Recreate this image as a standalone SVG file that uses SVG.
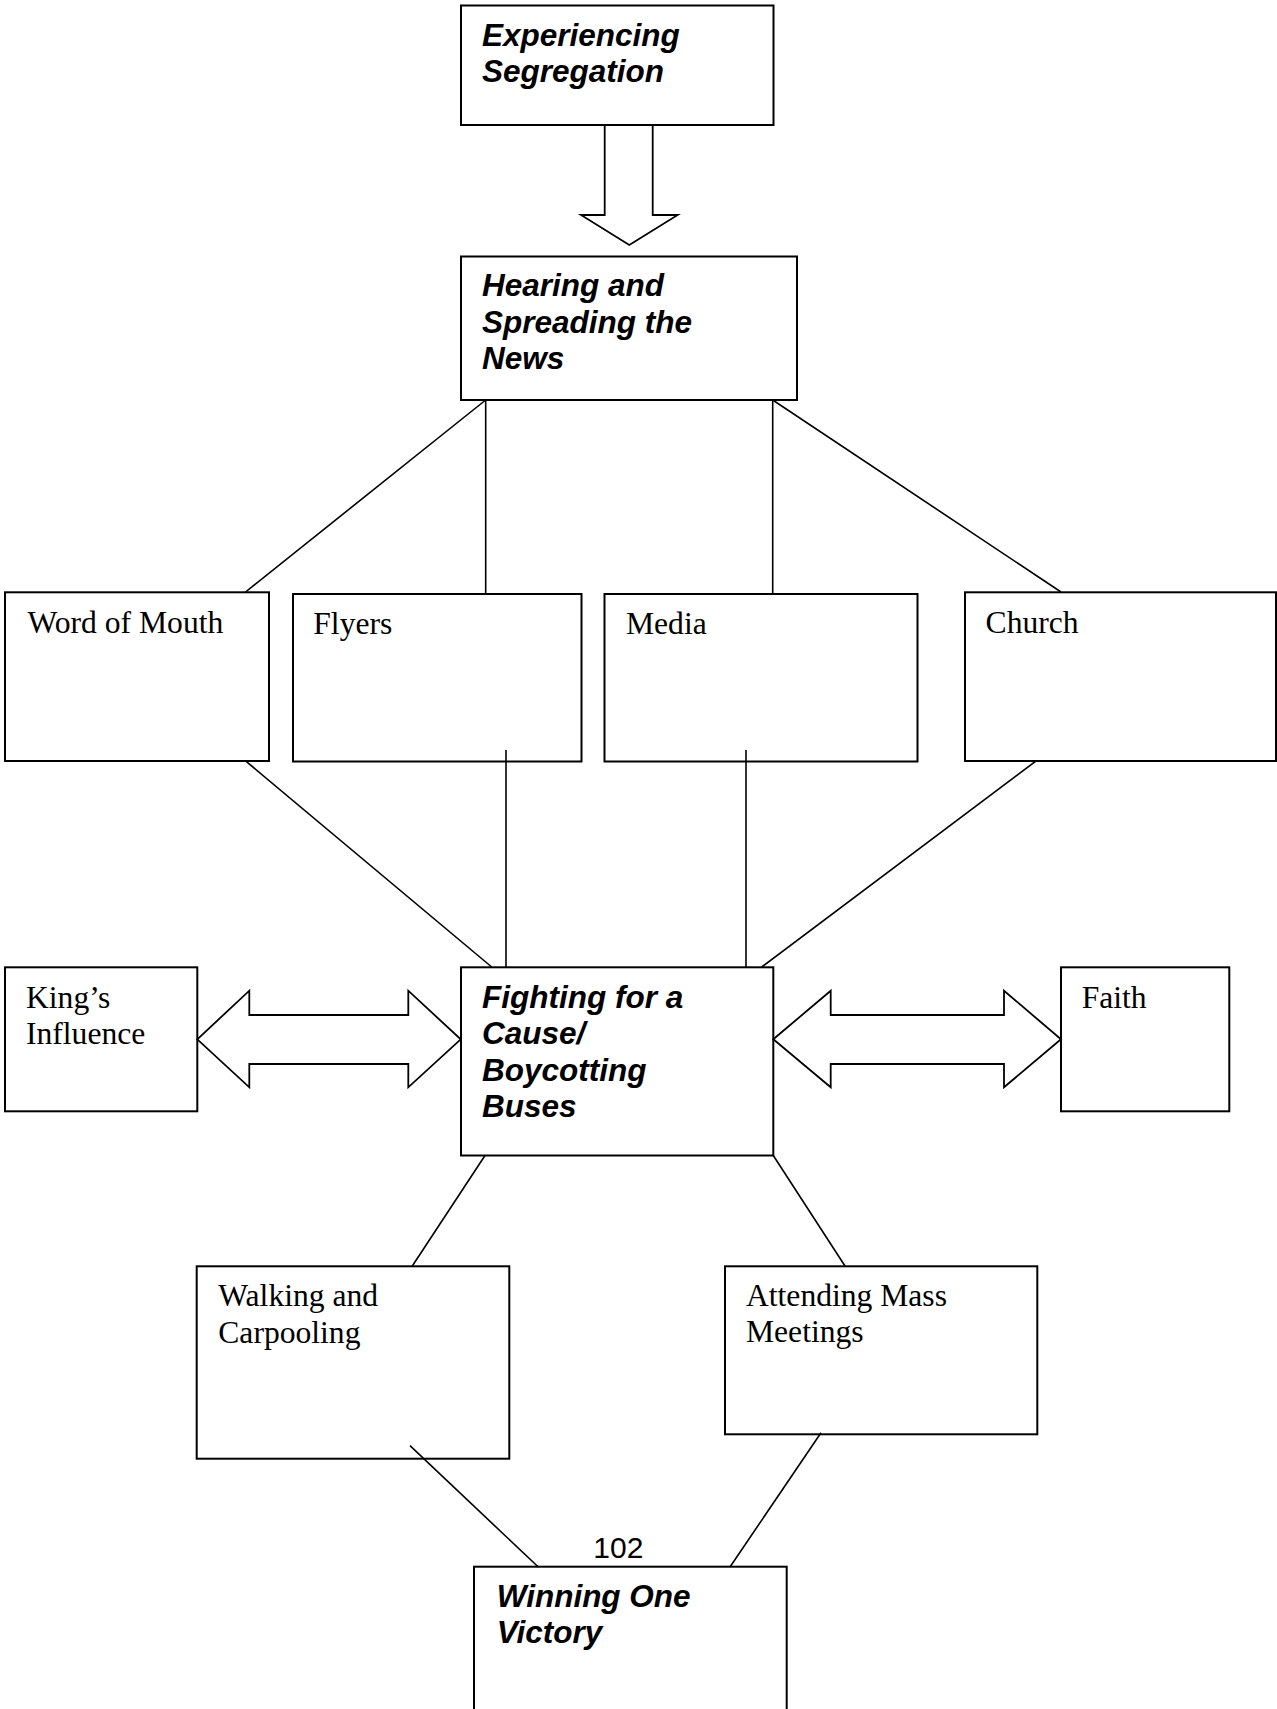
<svg xmlns="http://www.w3.org/2000/svg" width="1277" height="1709" viewBox="0 0 1277 1709">
<style>
.box{fill:none;stroke:#000;stroke-width:2}
.ln{fill:none;stroke:#000;stroke-width:1.6}
.arr{fill:#fff;stroke:#000;stroke-width:1.8;stroke-linejoin:miter}
.h{font-family:"Liberation Sans",Arial,sans-serif;font-weight:bold;font-style:italic;font-size:31.5px;fill:#000}
.t{font-family:"Liberation Serif","Times New Roman",serif;font-size:31.6px;fill:#000}
.pg{font-family:"Liberation Sans",Arial,sans-serif;font-size:30px;fill:#000}
</style>
<rect width="1277" height="1709" fill="#fff"/>
<g id="connectors">
<line class="ln" x1="485.7" y1="400" x2="245.5" y2="592"/>
<line class="ln" x1="485.7" y1="400" x2="485.7" y2="594"/>
<line class="ln" x1="772.7" y1="400" x2="772.7" y2="594"/>
<line class="ln" x1="772.7" y1="400" x2="1061" y2="592"/>
<line class="ln" x1="245.7" y1="761" x2="491.7" y2="967"/>
<line class="ln" x1="506" y1="750" x2="506" y2="967"/>
<line class="ln" x1="746" y1="750" x2="746" y2="967"/>
<line class="ln" x1="1036" y1="761" x2="761.7" y2="967"/>
<line class="ln" x1="485" y1="1155.5" x2="412.3" y2="1266"/>
<line class="ln" x1="773.3" y1="1155.5" x2="845" y2="1266"/>
<line class="ln" x1="410" y1="1445.7" x2="538.3" y2="1567"/>
<line class="ln" x1="821" y1="1432.7" x2="730" y2="1567"/>
<polygon class="arr" points="604.7,125 652.7,125 652.7,215 677.7,215 629.3,245 581,215 604.7,215"/>
<polygon class="arr" points="197.3,1039.3 249.3,990.7 249.3,1015 408.3,1015 408.3,990.7 460.7,1039.3 408.3,1087.3 408.3,1064 249.3,1064 249.3,1087.3"/>
<polygon class="arr" points="773.3,1039.3 830.7,990.7 830.7,1015 1004,1015 1004,990.7 1061,1039.3 1004,1087.3 1004,1064 830.7,1064 830.7,1087.3"/>
</g>
<g id="experiencing">
<rect class="box" x="461" y="5.5" width="312.5" height="119.5"/>
<text class="h" x="482" y="46">Experiencing</text>
<text class="h" x="482" y="82">Segregation</text>
</g>
<g id="hearing">
<rect class="box" x="461" y="256.5" width="336" height="143.5"/>
<text class="h" x="482" y="296">Hearing and</text>
<text class="h" x="482" y="333">Spreading the</text>
<text class="h" x="482" y="369">News</text>
</g>
<g id="word-of-mouth">
<rect class="box" x="5" y="592.3" width="264" height="168.7"/>
<text class="t" x="27.5" y="632.7">Word of Mouth</text>
</g>
<g id="flyers">
<rect class="box" x="293" y="594" width="288.5" height="167.5"/>
<text class="t" x="313.3" y="634">Flyers</text>
</g>
<g id="media">
<rect class="box" x="604.5" y="594" width="313" height="167.5"/>
<text class="t" x="626" y="634">Media</text>
</g>
<g id="church">
<rect class="box" x="965" y="592.3" width="311" height="168.7"/>
<text class="t" x="985.6" y="632.7">Church</text>
</g>
<g id="kings-influence">
<rect class="box" x="5" y="967.3" width="192.3" height="144"/>
<text class="t" x="26" y="1007.7">King’s</text>
<text class="t" x="26" y="1044">Influence</text>
</g>
<g id="fighting">
<rect class="box" x="461" y="967.3" width="312.3" height="188.2"/>
<text class="h" x="482" y="1007.7">Fighting for a</text>
<text class="h" x="482" y="1044">Cause/</text>
<text class="h" x="482" y="1080.5">Boycotting</text>
<text class="h" x="482" y="1116.5">Buses</text>
</g>
<g id="faith">
<rect class="box" x="1061" y="967.3" width="168.3" height="144"/>
<text class="t" x="1081.7" y="1007.7">Faith</text>
</g>
<g id="walking">
<rect class="box" x="196.7" y="1266.3" width="312.6" height="192.4"/>
<text class="t" x="218.3" y="1306">Walking and</text>
<text class="t" x="218.3" y="1342.5">Carpooling</text>
</g>
<g id="attending">
<rect class="box" x="725" y="1266.3" width="312.3" height="168"/>
<text class="t" x="746" y="1305.5">Attending Mass</text>
<text class="t" x="746" y="1342.3">Meetings</text>
</g>
<g id="winning">
<rect class="box" x="474" y="1566.7" width="312.7" height="160"/>
<text class="h" x="496.7" y="1606.7">Winning One</text>
<text class="h" x="496.7" y="1642.7">Victory</text>
</g>
<text class="pg" x="593.3" y="1558.3">102</text>
</svg>
